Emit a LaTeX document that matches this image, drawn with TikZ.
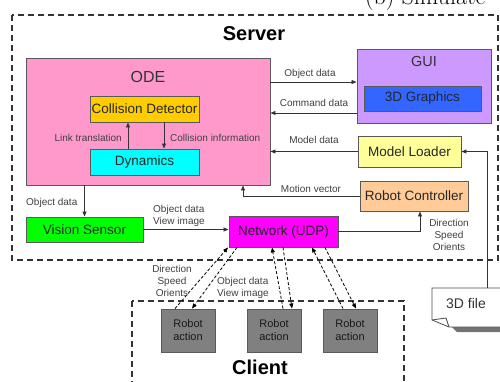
\documentclass[tikz,border=0pt]{standalone}
\usepackage{fontspec}
\newfontfamily\arialfont{Liberation Sans}
\usepackage{tikz}
\usetikzlibrary{positioning,arrows.meta,calc}
\usepackage{xcolor}
\definecolor{odepink}{RGB}{255,153,204}
\definecolor{cdgold}{RGB}{255,204,0}
\definecolor{dyncyan}{RGB}{0,255,255}
\definecolor{guiviolet}{RGB}{204,153,255}
\definecolor{gfxblue}{RGB}{51,102,255}
\definecolor{mlyellow}{RGB}{255,255,153}
\definecolor{rcorange}{RGB}{255,204,153}
\definecolor{vsgreen}{RGB}{0,255,0}
\definecolor{netmagenta}{RGB}{255,0,255}
\definecolor{robotgray}{RGB}{128,128,128}

\begin{document}
\begin{tikzpicture}[x=1pt,y=-1pt,
box/.style={draw=black!65,line width=0.9pt,inner sep=0pt,text=black!85,
  font=\arialfont\fontsize{13.5}{15}\selectfont},
robot/.style={box,fill=robotgray,minimum width=54pt,minimum height=43pt,align=center,
  text=black!90,font=\arialfont\fontsize{11}{13}\selectfont},
lbl/.style={inner sep=0pt,text=black!75,font=\arialfont\fontsize{10}{12}\selectfont},
arr/.style={-{Triangle[length=5pt,width=4pt]},line width=0.8pt,black!80},
darr/.style={arr,black,dash pattern=on 3pt off 2pt},
frame/.style={black!80,line width=1.6pt,dash pattern=on 6pt off 4pt}]
\useasboundingbox (0,0) rectangle (500,381);
% caption cut at the top
\node[anchor=base west,inner sep=0pt,font=\fontsize{24}{28}\selectfont] (caption) at (365,4) {(b) Simulate};
% Server side
\draw[frame] (12,15) rectangle (498,260);
\node[font=\arialfont\bfseries\fontsize{20}{24}\selectfont] (server) at (254,34) {Server};
\node[box,fill=odepink,minimum width=244pt,minimum height=127pt] (ode) at (148,121.5) {};
\node[font=\arialfont\fontsize{16}{18}\selectfont,text=black!80] (odetitle) at (148,77) {ODE};
\node[box,fill=cdgold,minimum width=109pt,minimum height=26pt] (cd) at (144.5,109) {Collision Detector};
\node[box,fill=dyncyan,minimum width=109pt,minimum height=26pt] (dyn) at (144.5,162) {Dynamics};
\node[box,fill=guiviolet,minimum width=134pt,minimum height=74pt] (gui) at (424,86) {};
\node[font=\arialfont\fontsize{14.5}{16}\selectfont,text=black!80] (guititle) at (424,62) {GUI};
\node[box,fill=gfxblue,minimum width=117pt,minimum height=25pt] (gfx) at (422.5,98.5) {3D Graphics};
\node[box,fill=mlyellow,minimum width=103pt,minimum height=31pt] (ml) at (409.5,151.5) {Model Loader};
\node[box,fill=rcorange,minimum width=108pt,minimum height=30pt] (rc) at (414,196) {Robot Controller};
\node[box,fill=vsgreen,minimum width=117pt,minimum height=25pt] (vs) at (84.5,229.5) {Vision Sensor};
\node[box,fill=netmagenta,minimum width=109pt,minimum height=31pt] (net) at (283.5,231.5) {Network (UDP)};
% 3D file
\fill[black!55] (452,327) -- (505,327) -- (505,332) -- (457,332) -- cycle;
\draw[draw=black!70,fill=white,line width=0.8pt] (432,288) -- (505,288) -- (505,327) -- (449,327) -- (432,320) -- cycle;
\draw[black!70,line width=0.8pt] (432,320) -- (446,318) -- (449,327);
\node[font=\arialfont\fontsize{14}{16}\selectfont,text=black!80] (file) at (466,303) {3D file};
\coordinate (filetop) at (487,288);
% Client side
\draw[frame] (132,301) rectangle (404,395);
\node[font=\arialfont\bfseries\fontsize{20}{24}\selectfont] (client) at (260,367) {Client};
\foreach \n/\x in {1/188,2/274,3/350}
\node[robot] (r\n) at (\x,330.5) {Robot\\action};
% connectors
\draw[arr] ([xshift=-16.5pt]dyn.north) -- ([xshift=-16.5pt]cd.south);
\draw[arr] ([xshift=19.5pt]cd.south) -- ([xshift=19.5pt]dyn.north);
\node[lbl,anchor=east] (linklbl) at (122,138) {Link translation};
\node[lbl,anchor=west] (colllbl) at (170,138) {Collision information};
\draw[arr] ([yshift=4pt]gui.west -| ode.east) -- ([yshift=4pt]gui.west);
\node[lbl] (objlbl) at (310,74) {Object data};
\draw[arr] ([yshift=-27pt]gui.west) -- ([yshift=-27pt]gui.west -| ode.east);
\node[lbl] (cmdlbl) at (314,103) {Command data};
\draw[arr] (ml.west) -- (ml.west -| ode.east);
\node[lbl] (modlbl) at (314,140) {Model data};
\draw[arr] (filetop) |- (ml.east);
\draw[arr] (rc.west) -| ([xshift=95pt]ode.south);
\node[lbl] (motlbl) at (311,189) {Motion vector};
\draw[arr] (vs.north |- ode.south) -- (vs.north);
\node[lbl,anchor=west] (vsobjlbl) at (26,203) {Object data};
\draw[arr] (vs.east) -- (net.west |- vs.east);
\node[lbl,anchor=west,align=left] (netobjlbl) at (153,216) {Object data\\View image};
\draw[arr] (net.east) -| ([xshift=6pt]rc.south);
\node[lbl,align=center] (rclbl) at (449,235) {Direction\\Speed\\Orients};
% client links
\foreach \r/\a/\b/\c/\d in {1/-13/-55.5/-46.5/4,2/9/-11.5/-0.5/18,3/-7/28.5/41.5/6}{
\draw[darr] ([xshift=\a pt]r\r.north) -- ([xshift=\b pt]net.south);
\draw[darr] ([xshift=\c pt]net.south) -- ([xshift=\d pt]r\r.north);
}
\node[lbl,align=center] (uplbl) at (172,281) {Direction\\Speed\\Orients};
\node[lbl,anchor=west,align=left] (downlbl) at (217,288) {Object data\\View image};
\end{tikzpicture}
\end{document}
